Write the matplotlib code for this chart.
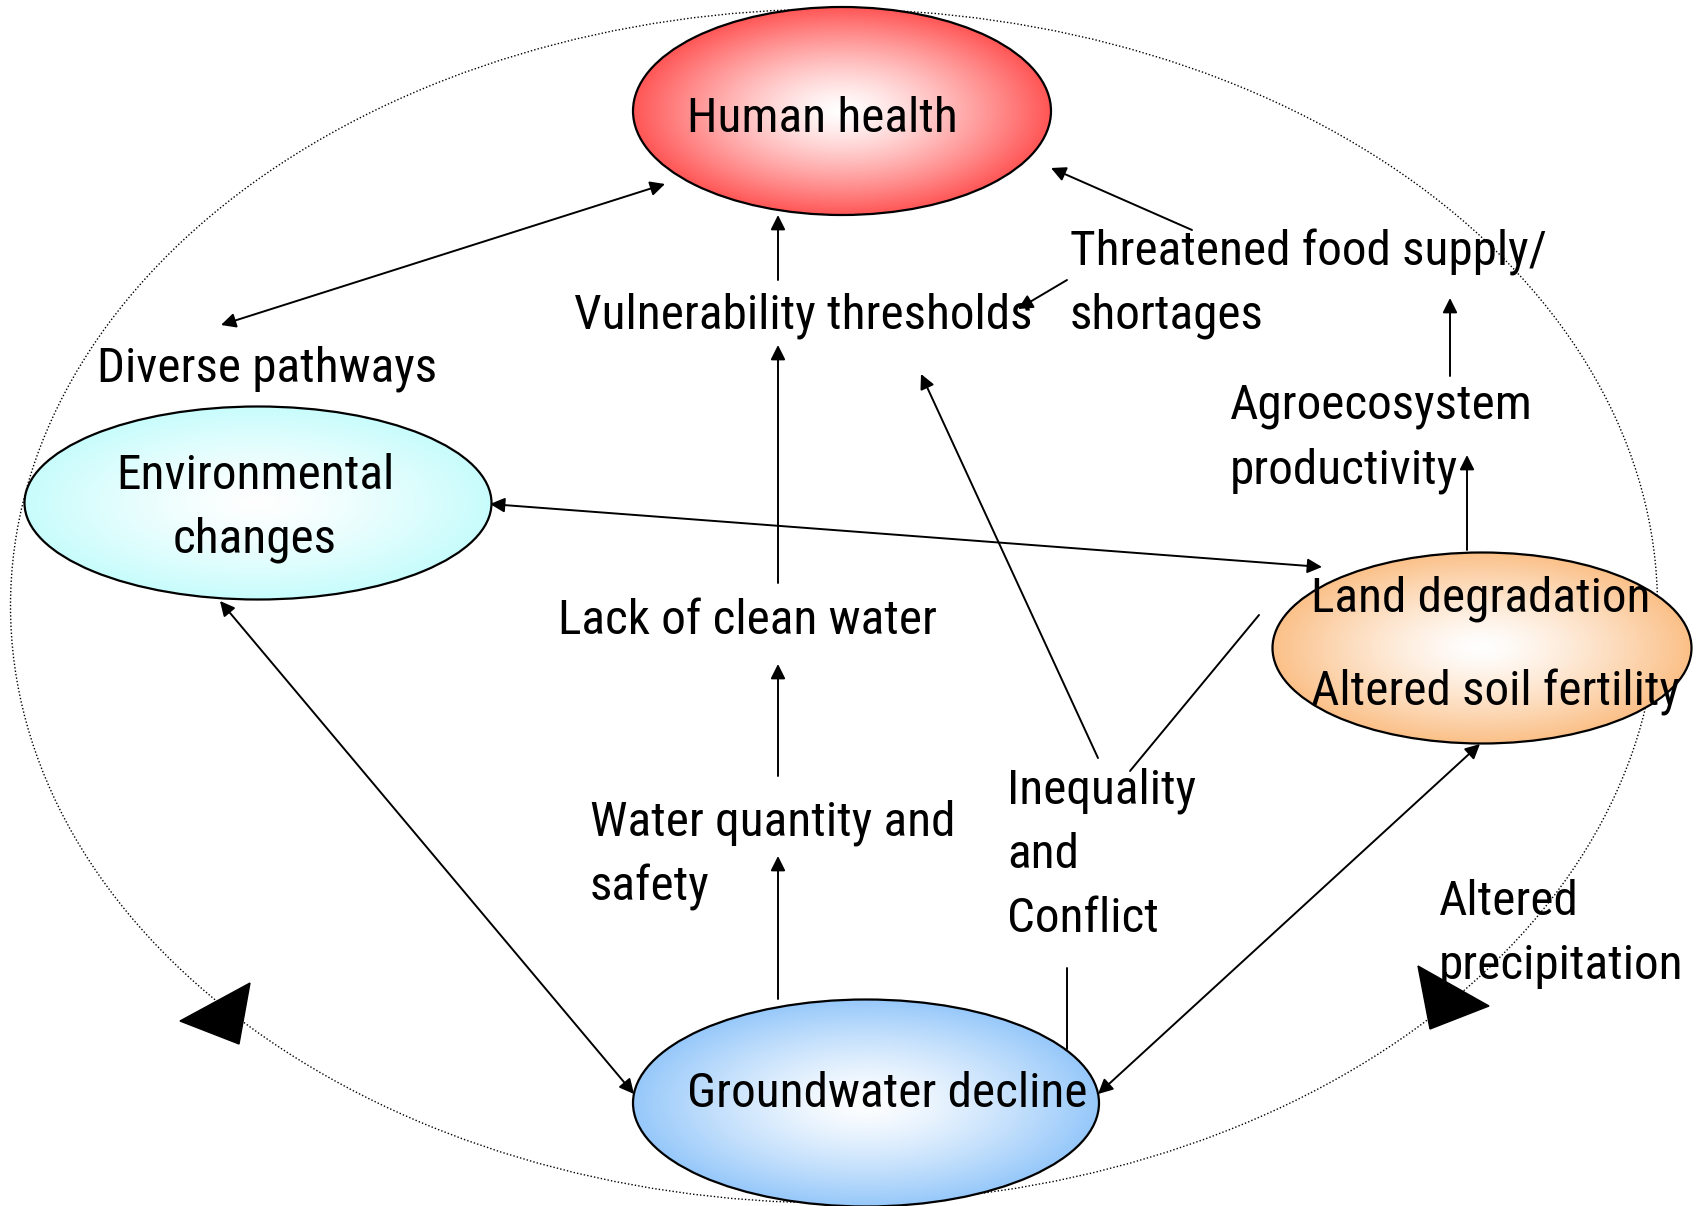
"""
plot.py - groundwater decline / human health concept diagram
"""

import numpy as np
import matplotlib
matplotlib.use('Agg')
import matplotlib.pyplot as plt
from matplotlib.patches import Ellipse, FancyArrowPatch, Polygon

W, H = 1699, 1206

# nodes: centre x, centre y, width, height, edge colour
node_names = ['health', 'env', 'land', 'ground']
node_x = [842, 258, 1482, 866]
node_y = [111, 503, 648, 1103]
node_w = [418, 467, 419, 466]
node_h = [208, 193, 191, 207]
node_colors = ['#ff5656', '#c8fcfc', '#fbc088', '#96c8fa']

# labels: text, x, y, horizontal alignment
label_texts = ['Human health', 'Diverse pathways', 'Vulnerability thresholds',
               'Threatened food supply/', 'shortages', 'Agroecosystem', 'productivity',
               'Environmental', 'changes', 'Lack of clean water', 'Land degradation',
               'Altered soil fertility', 'Water quantity and', 'safety',
               'Inequality', 'and', 'Conflict', 'Altered', 'precipitation',
               'Groundwater decline']
label_x = [822, 267, 574, 1070, 1070, 1230, 1230, 255, 255, 558, 1311, 1311,
           590, 590, 1007, 1007, 1007, 1439, 1439, 687]
label_y = [119, 369, 316, 252, 316, 406, 471, 476, 540, 621, 599, 692,
           823, 887, 791, 855, 919, 902, 966, 1094]
label_ha = ['center', 'center', 'left', 'left', 'left', 'left', 'left',
            'center', 'center', 'left', 'left', 'left', 'left', 'left',
            'left', 'left', 'left', 'left', 'left', 'left']

# connectors: x0, y0, x1, y1, style
arrow_x0 = [221, 778, 1192, 1067, 778, 1098, 1130, 490, 1450, 1467, 778, 778, 1067, 220, 1480]
arrow_y0 = [325, 280, 230, 280, 583, 758, 771, 504, 376, 550, 776, 999, 968, 601, 744]
arrow_x1 = [665, 778, 1051, 1018, 778, 921, 1259, 1322, 1450, 1467, 778, 778, 1067, 634, 1098]
arrow_y1 = [184, 215, 168, 309, 345, 374, 615, 567, 298, 455, 664, 856, 1049, 1094, 1094]
arrow_style = ['<|-|>', '-|>', '-|>', '-|>', '-|>', '-|>', '-', '<|-|>', '-|>', '-|>',
               '-|>', '-|>', '-', '<|-|>', '<|-|>']

# outer dotted cycle and its two big arrow heads
cycle = (834, 606, 1647, 1194)
tri_left = [(180, 1021), (250, 983), (239, 1044)]
tri_right = [(1418, 966), (1489, 1006), (1430, 1029)]

plt.rcParams['font.family'] = ['Roboto Condensed', 'Archivo Narrow', 'Liberation Sans', 'DejaVu Sans']

fig = plt.figure(figsize=(W / 100, H / 100), dpi=100)
ax = fig.add_axes([0, 0, 1, 1])
ax.set_xlim(0, W)
ax.set_ylim(H, 0)
ax.axis('off')

ax.add_patch(Ellipse((cycle[0], cycle[1]), cycle[2], cycle[3], fill=False,
                     ec='black', lw=1.0, ls=(0, (1, 1.5)), zorder=1))


def gradient_ellipse(cx, cy, w, h, color):
    rgb = np.array(matplotlib.colors.to_rgb(color))
    xs = np.linspace(-1, 1, 300)
    xx, yy = np.meshgrid(xs, xs)
    r = np.clip(np.sqrt(xx ** 2 + yy ** 2), 0, 1)
    t = r[..., None] ** 1.3
    img = (1 - t) * np.ones(3) + t * rgb
    patch = Ellipse((cx, cy), w, h, fc='none', ec='black', lw=1.6, zorder=3)
    ax.add_patch(patch)
    im = ax.imshow(img, extent=(cx - w / 2, cx + w / 2, cy + h / 2, cy - h / 2),
                   zorder=2, interpolation='bilinear')
    im.set_clip_path(patch)


for i in range(len(node_names)):
    gradient_ellipse(node_x[i], node_y[i], node_w[i], node_h[i], node_colors[i])

ax.set_xlim(0, W)
ax.set_ylim(H, 0)

for i in range(len(arrow_x0)):
    a = FancyArrowPatch((arrow_x0[i], arrow_y0[i]), (arrow_x1[i], arrow_y1[i]),
                        arrowstyle=arrow_style[i], mutation_scale=22, lw=1.4,
                        color='black', shrinkA=0, shrinkB=0, zorder=4)
    ax.add_patch(a)

ax.add_patch(Polygon(tri_left, closed=True, fc='black', ec='black', zorder=4))
ax.add_patch(Polygon(tri_right, closed=True, fc='black', ec='black', zorder=4))

for i in range(len(label_texts)):
    ax.text(label_x[i], label_y[i], label_texts[i], ha=label_ha[i], va='center',
            fontsize=35.5, color='black', zorder=5)

fig.savefig('out.png', dpi=100)
